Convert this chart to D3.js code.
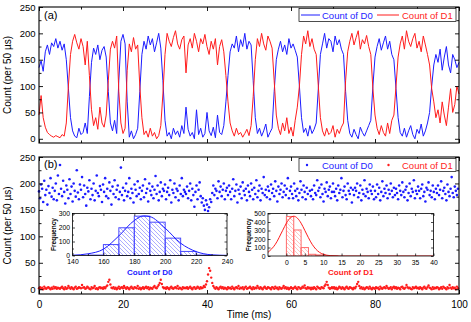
<!DOCTYPE html>
<html>
<head>
<meta charset="utf-8">
<script src="https://cdn.jsdelivr.net/npm/d3@7.9.0/dist/d3.min.js"></script>
<style>
  html, body { margin: 0; padding: 0; background: #fff; }
  svg { display: block; }
</style>
</head>
<body>
<svg id="chart" width="471" height="322"></svg>
<script>
const FONT = '"Liberation Sans", Arial, Helvetica, sans-serif';
const BLUE = '#1c1cff';
const RED = '#ff1c1c';

// panel (a): photon counts per 50 us bin, sampled every 0.5 ms
const traceStep = 0.5;
const traceD0 = [135,148,128,165,178,160,182,175,190,172,185,168,180,150,95,40,15,5,2,20,8,12,30,10,80,145,
  172,160,178,150,168,175,155,90,30,15,35,10,110,185,198,180,70,3,15,0,8,20,90,160,
  185,170,195,178,190,165,182,200,172,110,35,
  5,12,0,20,8,15,3,25,10,60,18,5,12,0,55,8,20,3,10,50,15,6,22,2,45,12,8,25,70,120,165,
  180,172,195,165,188,175,200,170,185,178,110,40,10,20,5,15,28,3,12,20,90,150,
  170,185,165,178,160,190,172,180,168,155,100,40,12,20,5,25,10,18,30,95,160,
  180,200,172,190,185,165,195,178,188,170,160,90,35,10,3,18,8,0,22,12,5,15,25,35,100,155,
  175,190,168,182,195,170,185,160,150,95,40,12,5,20,3,15,25,8,0,18,10,28,5,15,30,50,100,140,
  160,145,170,130,155,175,140,125,160,150,135,145];
const traceD1 = [45,82,40,22,12,8,5,3,6,4,2,8,5,30,100,160,185,198,182,170,190,175,140,185,120,55,
  25,40,18,60,30,22,45,110,170,185,172,195,90,30,10,20,130,180,165,192,170,178,100,40,
  8,15,3,20,5,12,0,6,25,85,160,
  200,185,175,192,205,180,170,188,195,125,178,190,172,200,185,165,190,180,198,175,160,185,170,190,140,175,188,165,120,70,30,
  15,5,20,8,12,3,10,18,6,25,80,150,190,175,200,180,168,195,185,172,110,45,
  20,8,30,15,40,10,22,5,35,60,100,160,195,180,205,175,190,170,160,100,40,
  15,5,20,8,12,25,3,18,10,22,30,110,165,185,200,178,192,205,170,188,180,196,175,160,95,45,
  20,8,25,12,5,30,10,35,45,100,155,180,195,170,205,185,175,190,200,172,185,165,195,178,160,140,95,70,
  40,55,30,70,45,25,60,95,50,65,100,85];

// panel (b): counts per bin, sampled every 0.25 ms
const dotStep = 0.25;
const dotsD0 = [
  185,172,198,190,165,205,178,188,160,195,182,210,175,192,170,186,200,168,215,180,
  235,190,176,205,184,162,196,188,172,208,180,194,166,200,186,175,225,183,170,198,
  188,212,174,196,180,158,192,185,206,170,190,178,200,168,186,215,182,176,195,188,
  165,198,184,210,176,190,172,202,186,160,194,180,206,174,188,196,170,184,230,178,
  192,168,186,200,176,184,210,172,190,182,164,198,188,176,204,180,192,170,186,196,
  174,208,182,190,166,200,186,178,194,172,188,214,180,196,168,184,202,176,190,186,
  198,170,184,192,178,206,164,188,182,200,174,190,186,168,196,180,210,176,188,184,
  180,194,172,186,200,168,190,178,156,184,196,170,188,202,176,164,172,158,150,168,
  160,148,155,170,165,182,196,178,190,186,172,204,184,194,176,188,200,170,186,192,
  178,196,184,170,190,208,176,186,198,164,188,180,194,172,202,186,178,190,168,196,
  184,176,200,188,170,192,180,206,174,186,196,168,190,182,212,178,188,174,194,186,
  170,198,182,190,176,204,186,166,194,180,188,200,174,184,196,178,190,210,172,186,
  194,180,172,200,186,176,190,168,182,204,188,174,196,184,170,192,180,228,186,176,
  188,170,196,182,178,206,186,192,174,198,180,166,190,184,202,176,188,194,172,184,
  200,184,176,190,168,196,182,188,210,174,186,194,178,170,200,186,180,192,164,188,
  178,192,186,200,174,182,196,168,188,180,206,176,190,184,172,198,186,180,194,170,
  186,174,198,180,192,168,184,204,176,190,182,196,172,188,180,200,186,174,192,178,
  190,182,170,196,186,178,202,184,174,188,194,168,182,200,176,190,184,206,172,186,
  180,194,186,172,190,198,176,184,166,192,188,202,178,186,174,196,184,170,190,182,
  196,178,188,204,172,186,192,180,168,198,184,176,190,212,182,174,194,186,178,190];
const dotsD1 = [
  2,4,1,3,0,5,2,1,3,4,2,0,3,1,5,2,4,1,3,2,
  1,3,5,2,0,4,1,2,6,3,1,4,2,0,3,5,1,2,4,3,
  2,8,3,4,1,2,5,3,1,0,4,2,3,6,1,2,0,3,4,2,
  3,1,4,2,5,7,14,18,9,3,2,4,1,3,0,2,5,1,3,4,
  2,6,3,1,4,2,0,3,5,2,1,4,3,2,6,1,3,0,2,4,
  1,3,5,2,4,0,3,2,1,4,6,3,2,5,8,12,18,10,4,2,
  3,1,4,2,0,3,5,2,1,3,4,2,6,1,3,2,0,4,2,3,
  2,4,1,3,5,2,0,3,4,1,2,5,3,1,4,2,3,6,4,9,
  15,28,40,35,22,12,6,3,1,4,2,0,3,5,2,4,1,3,2,0,
  4,2,3,1,5,2,0,3,4,2,6,1,3,2,4,0,3,5,1,2,
  3,5,2,0,4,1,3,2,6,3,1,4,2,0,3,5,2,1,4,3,
  2,0,4,3,1,5,2,3,0,4,2,1,3,6,2,4,1,3,0,2,
  4,2,1,3,5,2,0,4,3,1,2,5,3,7,2,1,4,2,3,0,
  3,1,4,2,0,5,3,2,1,4,3,2,6,9,14,8,3,1,2,4,
  2,4,1,3,0,2,5,3,1,4,2,0,3,5,2,1,4,3,2,0,
  3,2,5,10,14,6,2,4,1,3,0,2,4,3,1,5,2,0,3,2,
  1,4,2,3,0,5,2,1,3,4,2,6,3,1,2,4,0,3,5,2,
  4,1,3,2,0,4,5,2,1,3,8,4,2,3,1,0,4,2,3,5,
  2,3,1,4,2,0,3,5,2,1,4,7,3,2,0,4,1,3,2,4,
  3,0,2,4,1,5,3,2,0,4,2,8,3,1,4,2,3,0,5,2];

// histograms (inset)
const histD0Start = [150,160,170,180,190,200,210,220];
const histD0Count = [3,78,198,281,238,124,29,3];
const histD0Width = 10;
const fitD0X = [140,150,160,170,180,186,190,200,210,220,230,240];
const fitD0Y = [2,12,45,140,250,283,278,195,88,28,5,1];

const histD1Start = [0,2,4,6,8,10,12];
const histD1Count = [464,306,99,20,12,4,2];
const histD1Width = 2;
const fitD1X = [-5,-3,-1,0,1,2,3,4,5,6,7,8,9,10,12,14,16,40];
const fitD1Y = [43,138,302,386,445,468,445,386,302,215,138,81,43,21,4,0,0,0];

const timeMajor = [0,20,40,60,80,100];
const timeMinor = [10,30,50,70,90];
const countMajor = [0,50,100,150,200,250];
const countMinor = [25,75,125,175,225];

const svg = d3.select('#chart').attr('font-family', FONT);

const defs = svg.append('defs');
function hatch(id, color) {
  defs.append('pattern').attr('id', id)
    .attr('patternUnits', 'userSpaceOnUse').attr('width', 4).attr('height', 4)
    .append('path').attr('d', 'M0,0L4,4M-1,3L1,5M3,-1L5,1')
    .attr('stroke', color).attr('stroke-width', 0.7);
}
hatch('hatchBlue', '#8a8aff');
hatch('hatchRed', '#ffaaaa');

// draws one row of inward ticks (optionally labelled)
function ticks(orient, scale, values, size, at, opts = {}) {
  const horiz = orient === d3.axisBottom || orient === d3.axisTop;
  const ax = orient(scale).tickValues(values).tickSizeInner(-size).tickSizeOuter(0)
    .tickPadding(opts.pad || 3).tickFormat(opts.label ? (d) => d : () => '');
  const g = svg.append('g')
    .attr('transform', horiz ? `translate(0,${at})` : `translate(${at},0)`)
    .call(ax);
  g.attr('font-family', FONT).attr('font-size', opts.font || 10);
  g.select('.domain').remove();
  g.selectAll('line').attr('stroke', '#000').attr('stroke-width', opts.sw || 0.9);
  g.selectAll('text').attr('fill', '#000');
  return g;
}

function frame(x, y, sw) {
  const [x0, x1] = x.range();
  const [yb, yt] = y.range();
  svg.append('rect').attr('x', x0).attr('y', yt).attr('width', x1 - x0).attr('height', yb - yt)
    .attr('fill', 'none').attr('stroke', '#000').attr('stroke-width', sw);
}

function panelAxes(x, y, labelled) {
  const [x0, x1] = x.range();
  const [yb, yt] = y.range();
  ticks(d3.axisBottom, x, timeMajor, 4, yb, { label: labelled, pad: 6.5, font: 10 });
  ticks(d3.axisBottom, x, timeMinor, 2.5, yb);
  ticks(d3.axisTop, x, timeMajor, 4, yt);
  ticks(d3.axisTop, x, timeMinor, 2.5, yt);
  ticks(d3.axisLeft, y, countMajor, 4, x0, { label: true, pad: 3.5, font: 9.5 });
  ticks(d3.axisLeft, y, countMinor, 2.5, x0);
  ticks(d3.axisRight, y, countMajor, 4, x1);
  ticks(d3.axisRight, y, countMinor, 2.5, x1);
  frame(x, y, 1.1);
}

// ---------- panel (a)
const x = d3.scaleLinear().domain([0, 100]).range([39, 459]);
const yA = d3.scaleLinear().domain([-8, 250]).range([143, 7]);
const yB = d3.scaleLinear().domain([-9, 250]).range([294, 157]);

const trace = d3.line().x((d, i) => x(i * traceStep)).y((d) => yA(d));
svg.append('path').datum(traceD0).attr('d', trace)
  .attr('fill', 'none').attr('stroke', BLUE).attr('stroke-width', 1);
svg.append('path').datum(traceD1).attr('d', trace)
  .attr('fill', 'none').attr('stroke', RED).attr('stroke-width', 1);

panelAxes(x, yA, false);

svg.append('text').attr('x', 44).attr('y', 19).attr('font-size', 11).text('(a)');

// legend (a)
const legA = svg.append('g');
legA.append('rect').attr('x', 299).attr('y', 8.5).attr('width', 157).attr('height', 13)
  .attr('fill', '#fff').attr('stroke', '#000').attr('stroke-width', 0.7);
legA.append('line').attr('x1', 301).attr('x2', 320).attr('y1', 15).attr('y2', 15)
  .attr('stroke', BLUE).attr('stroke-width', 1);
legA.append('text').attr('x', 322).attr('y', 18.5).attr('font-size', 9.5).attr('fill', BLUE).text('Count of D0');
legA.append('line').attr('x1', 377).attr('x2', 399).attr('y1', 15).attr('y2', 15)
  .attr('stroke', RED).attr('stroke-width', 1);
legA.append('text').attr('x', 402).attr('y', 18.5).attr('font-size', 9.5).attr('fill', RED).text('Count of D1');

// ---------- panel (b)
svg.append('g').selectAll('circle').data(dotsD0).join('circle')
  .attr('cx', (d, i) => x(i * dotStep)).attr('cy', (d) => yB(d)).attr('r', 1.3).attr('fill', BLUE);
svg.append('g').selectAll('circle').data(dotsD1).join('circle')
  .attr('cx', (d, i) => x(i * dotStep)).attr('cy', (d) => yB(d)).attr('r', 1.2).attr('fill', RED);

panelAxes(x, yB, true);
svg.append('text').attr('x', 44).attr('y', 168).attr('font-size', 11).text('(b)');

const legB = svg.append('g');
legB.append('rect').attr('x', 299).attr('y', 158.5).attr('width', 157).attr('height', 13)
  .attr('fill', '#fff').attr('stroke', '#000').attr('stroke-width', 0.7);
legB.append('circle').attr('cx', 307).attr('cy', 165).attr('r', 1.2).attr('fill', BLUE);
legB.append('text').attr('x', 322).attr('y', 168.5).attr('font-size', 9.5).attr('fill', BLUE).text('Count of D0');
legB.append('circle').attr('cx', 388.5).attr('cy', 165).attr('r', 1.2).attr('fill', RED);
legB.append('text').attr('x', 402).attr('y', 168.5).attr('font-size', 9.5).attr('fill', RED).text('Count of D1');

// axis titles
const yTitle = 'Count (per 50 \u00b5s)';
[75, 225.5].forEach((cy) => {
  svg.append('text').attr('transform', `translate(11,${cy}) rotate(-90)`)
    .attr('text-anchor', 'middle').attr('font-size', 10).text(yTitle);
});
svg.append('text').attr('x', 249).attr('y', 318).attr('text-anchor', 'middle')
  .attr('font-size', 10).text('Time (ms)');

// ---------- insets
function inset(cfg) {
  const { xs, ys, starts, counts, width, fitX, fitY, color, stroke, pattern, id } = cfg;
  const [x0, x1] = xs.range();
  const [yb, yt] = ys.range();
  svg.append('rect').attr('x', x0).attr('y', yt).attr('width', x1 - x0).attr('height', yb - yt).attr('fill', '#fff');
  svg.append('clipPath').attr('id', id).append('rect')
    .attr('x', x0).attr('y', yt).attr('width', x1 - x0).attr('height', yb - yt);
  const g = svg.append('g').attr('clip-path', `url(#${id})`);
  g.selectAll('rect').data(starts).join('rect')
    .attr('x', (d) => xs(d)).attr('width', (d) => xs(d + width) - xs(d))
    .attr('y', (d, i) => ys(counts[i])).attr('height', (d, i) => yb - ys(counts[i]))
    .attr('fill', `url(#${pattern})`).attr('stroke', stroke).attr('stroke-width', 1);
  const fit = d3.line().curve(d3.curveMonotoneX).x((d) => xs(d)).y((d, i) => ys(fitY[i]));
  g.append('path').datum(fitX).attr('d', fit).attr('fill', 'none').attr('stroke', color).attr('stroke-width', 1);

  const xMaj = cfg.xMajor, yMaj = cfg.yMajor;
  ticks(d3.axisBottom, xs, xMaj, 2.5, yb, { label: true, pad: 4, font: 6.8, sw: 0.7 });
  ticks(d3.axisBottom, xs, cfg.xMinor, 1.5, yb, { sw: 0.7 });
  ticks(d3.axisTop, xs, xMaj, 2.5, yt, { sw: 0.7 });
  ticks(d3.axisLeft, ys, yMaj, 2.5, x0, { label: true, pad: 2.5, font: 6.8, sw: 0.7 });
  ticks(d3.axisLeft, ys, cfg.yMinor, 1.5, x0, { sw: 0.7 });
  ticks(d3.axisRight, ys, yMaj, 2.5, x1, { sw: 0.7 });
  ticks(d3.axisRight, ys, cfg.yMinor, 1.5, x1, { sw: 0.7 });
  frame(xs, ys, 0.8);

  svg.append('text').attr('transform', `translate(${cfg.freqX},${(yb + yt) / 2}) rotate(-90)`)
    .attr('text-anchor', 'middle').attr('font-size', 6.5).attr('font-weight', 'bold').text('Frequency');
  svg.append('text').attr('x', (x0 + x1) / 2).attr('y', 274.5).attr('text-anchor', 'middle')
    .attr('font-size', 8).attr('font-weight', 'bold').attr('fill', color).text(cfg.title);
}

inset({
  id: 'clipD0',
  xs: d3.scaleLinear().domain([140, 240]).range([72.5, 227]),
  ys: d3.scaleLinear().domain([0, 300]).range([255.5, 213.5]),
  starts: histD0Start, counts: histD0Count, width: histD0Width,
  fitX: fitD0X, fitY: fitD0Y,
  color: BLUE, stroke: '#4a4aff', pattern: 'hatchBlue',
  xMajor: [140,160,180,200,220,240], xMinor: [150,170,190,210,230],
  yMajor: [0,100,200,300], yMinor: [50,150,250],
  freqX: 56, title: 'Count of D0'
});

inset({
  id: 'clipD1',
  xs: d3.scaleLinear().domain([-5, 40]).range([268, 433.5]),
  ys: d3.scaleLinear().domain([0, 500]).range([256, 213.5]),
  starts: histD1Start, counts: histD1Count, width: histD1Width,
  fitX: fitD1X, fitY: fitD1Y,
  color: RED, stroke: '#ff6a6a', pattern: 'hatchRed',
  xMajor: [0,5,10,15,20,25,30,35,40], xMinor: [],
  yMajor: [0,100,200,300,400,500], yMinor: [],
  freqX: 251, title: 'Count of D1'
});
</script>
</body>
</html>
